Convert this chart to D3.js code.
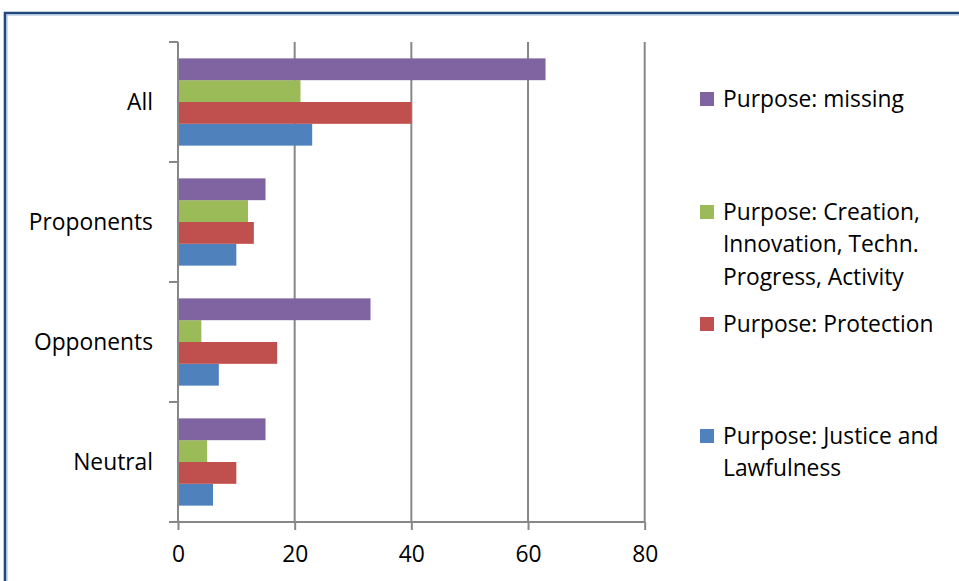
<!DOCTYPE html>
<html>
<head>
<meta charset="utf-8">
<script src="https://cdn.jsdelivr.net/npm/d3@7/dist/d3.min.js"></script>
<style>
  html, body { margin: 0; padding: 0; background: #fff; }
  svg { display: block; }
  text { font-family: "Open Sans", Carlito, Lato, sans-serif; fill: #000; font-variant-ligatures: none; }
</style>
</head>
<body>
<svg id="chart" width="959" height="581"></svg>
<script>
// Purpose categories by group (count of statements)
const categories = ["All", "Proponents", "Opponents", "Neutral"];
// Series, listed from the bottom bar of each group to the top bar
const seriesNames = [
  "Purpose: Justice and Lawfulness",
  "Purpose: Protection",
  "Purpose: Creation, Innovation, Techn. Progress, Activity",
  "Purpose: missing"
];
const justice    = [23, 10, 7, 6];
const protection = [40, 13, 17, 10];
const creation   = [21, 12, 4, 5];
const missing    = [63, 15, 33, 15];
const seriesValues = [justice, protection, creation, missing];
const seriesColors = ["#4f81bd", "#c0504d", "#9bbb59", "#8064a2"];
const xTicks = [0, 20, 40, 60, 80];

// Legend text, split into lines as wrapped in the legend box
const legendLines = [
  ["Purpose: missing"],
  ["Purpose: Creation,", "Innovation, Techn.", "Progress, Activity"],
  ["Purpose: Protection"],
  ["Purpose: Justice and", "Lawfulness"]
];
const legendColors = ["#8064a2", "#9bbb59", "#c0504d", "#4f81bd"];

const svg = d3.select("#chart");
const plot = { left: 178, right: 644.7, top: 42, bottom: 522 };
const fontSize = 22.8;
const fontFamily = "'Open Sans', Carlito, Lato, sans-serif";
const gridColor = "#878787";

// Outer frame (only top and left edges fall inside the view)
svg.append("path")
  .attr("d", "M5,600 L5,13 L980,13")
  .attr("fill", "none").attr("stroke", "#1f497d").attr("stroke-width", 2.6);
svg.append("path")
  .attr("d", "M7,600 L7,15 L980,15")
  .attr("fill", "none").attr("stroke", "#9db7d9").attr("stroke-width", 1);

const x = d3.scaleLinear().domain([0, 80]).range([plot.left, plot.right]);
const y = d3.scaleBand().domain(categories).range([plot.top, plot.bottom]);

// Bars within a group: Excel-style gap width of 150% of a bar
const barH = y.bandwidth() / (seriesNames.length + 1.5);
const sub = d3.scaleBand()
  .domain(d3.range(seriesNames.length).reverse())
  .range([0.75 * barH, 0.75 * barH + barH * seriesNames.length]);

// Vertical gridlines
svg.append("g").selectAll("line")
  .data(xTicks.filter(d => d > 0))
  .join("line")
  .attr("x1", d => x(d)).attr("x2", d => x(d))
  .attr("y1", plot.top).attr("y2", plot.bottom)
  .attr("stroke", gridColor).attr("stroke-width", 2);

// Bars
const barData = [];
seriesValues.forEach((vals, si) => {
  vals.forEach((v, ci) => barData.push({ si, cat: categories[ci], v }));
});
svg.append("g").selectAll("rect")
  .data(barData)
  .join("rect")
  .attr("x", x(0))
  .attr("y", d => y(d.cat) + sub(d.si))
  .attr("width", d => x(d.v) - x(0))
  .attr("height", sub.bandwidth())
  .attr("fill", d => seriesColors[d.si]);

// X axis (bottom)
const xAxis = svg.append("g")
  .attr("transform", `translate(0,${plot.bottom})`)
  .call(d3.axisBottom(x).tickValues(xTicks).tickSize(8).tickSizeOuter(0).tickPadding(16));
xAxis.select(".domain").remove();
xAxis.append("line")
  .attr("x1", plot.left - 9).attr("x2", plot.right)
  .attr("stroke", gridColor).attr("stroke-width", 2);
xAxis.selectAll(".tick line").attr("stroke", gridColor).attr("stroke-width", 2);
xAxis.selectAll(".tick text")
  .attr("font-size", fontSize)
  .style("font-family", fontFamily)
  .attr("fill", "#000");

// Y axis (left) with ticks at group boundaries
const yAxisG = svg.append("g");
yAxisG.append("line")
  .attr("x1", plot.left).attr("x2", plot.left)
  .attr("y1", plot.top).attr("y2", plot.bottom)
  .attr("stroke", gridColor).attr("stroke-width", 2);
const bounds = categories.map(c => y(c)).concat([plot.bottom]);
yAxisG.selectAll("line.tick")
  .data(bounds)
  .join("line")
  .attr("class", "tick")
  .attr("x1", plot.left - 9).attr("x2", plot.left)
  .attr("y1", d => d).attr("y2", d => d)
  .attr("stroke", gridColor).attr("stroke-width", 2);
yAxisG.selectAll("text")
  .data(categories)
  .join("text")
  .attr("x", plot.left - 25)
  .attr("y", d => y(d) + y.bandwidth() / 2)
  .attr("dy", "0.35em")
  .attr("text-anchor", "end")
  .attr("font-size", fontSize)
  .text(d => d);

// Legend
const legendTop = [99, 212, 324, 436];
const lineGap = 32.5;
const legend = svg.append("g");
legendLines.forEach((lines, i) => {
  legend.append("rect")
    .attr("x", 700).attr("y", legendTop[i] - 7)
    .attr("width", 14).attr("height", 14)
    .attr("fill", legendColors[i]);
  const t = legend.append("text")
    .attr("x", 723).attr("y", legendTop[i])
    .attr("font-size", fontSize);
  lines.forEach((ln, j) => {
    t.append("tspan")
      .attr("x", 723)
      .attr("dy", j === 0 ? "0.35em" : lineGap)
      .text(ln);
  });
});
</script>
</body>
</html>
